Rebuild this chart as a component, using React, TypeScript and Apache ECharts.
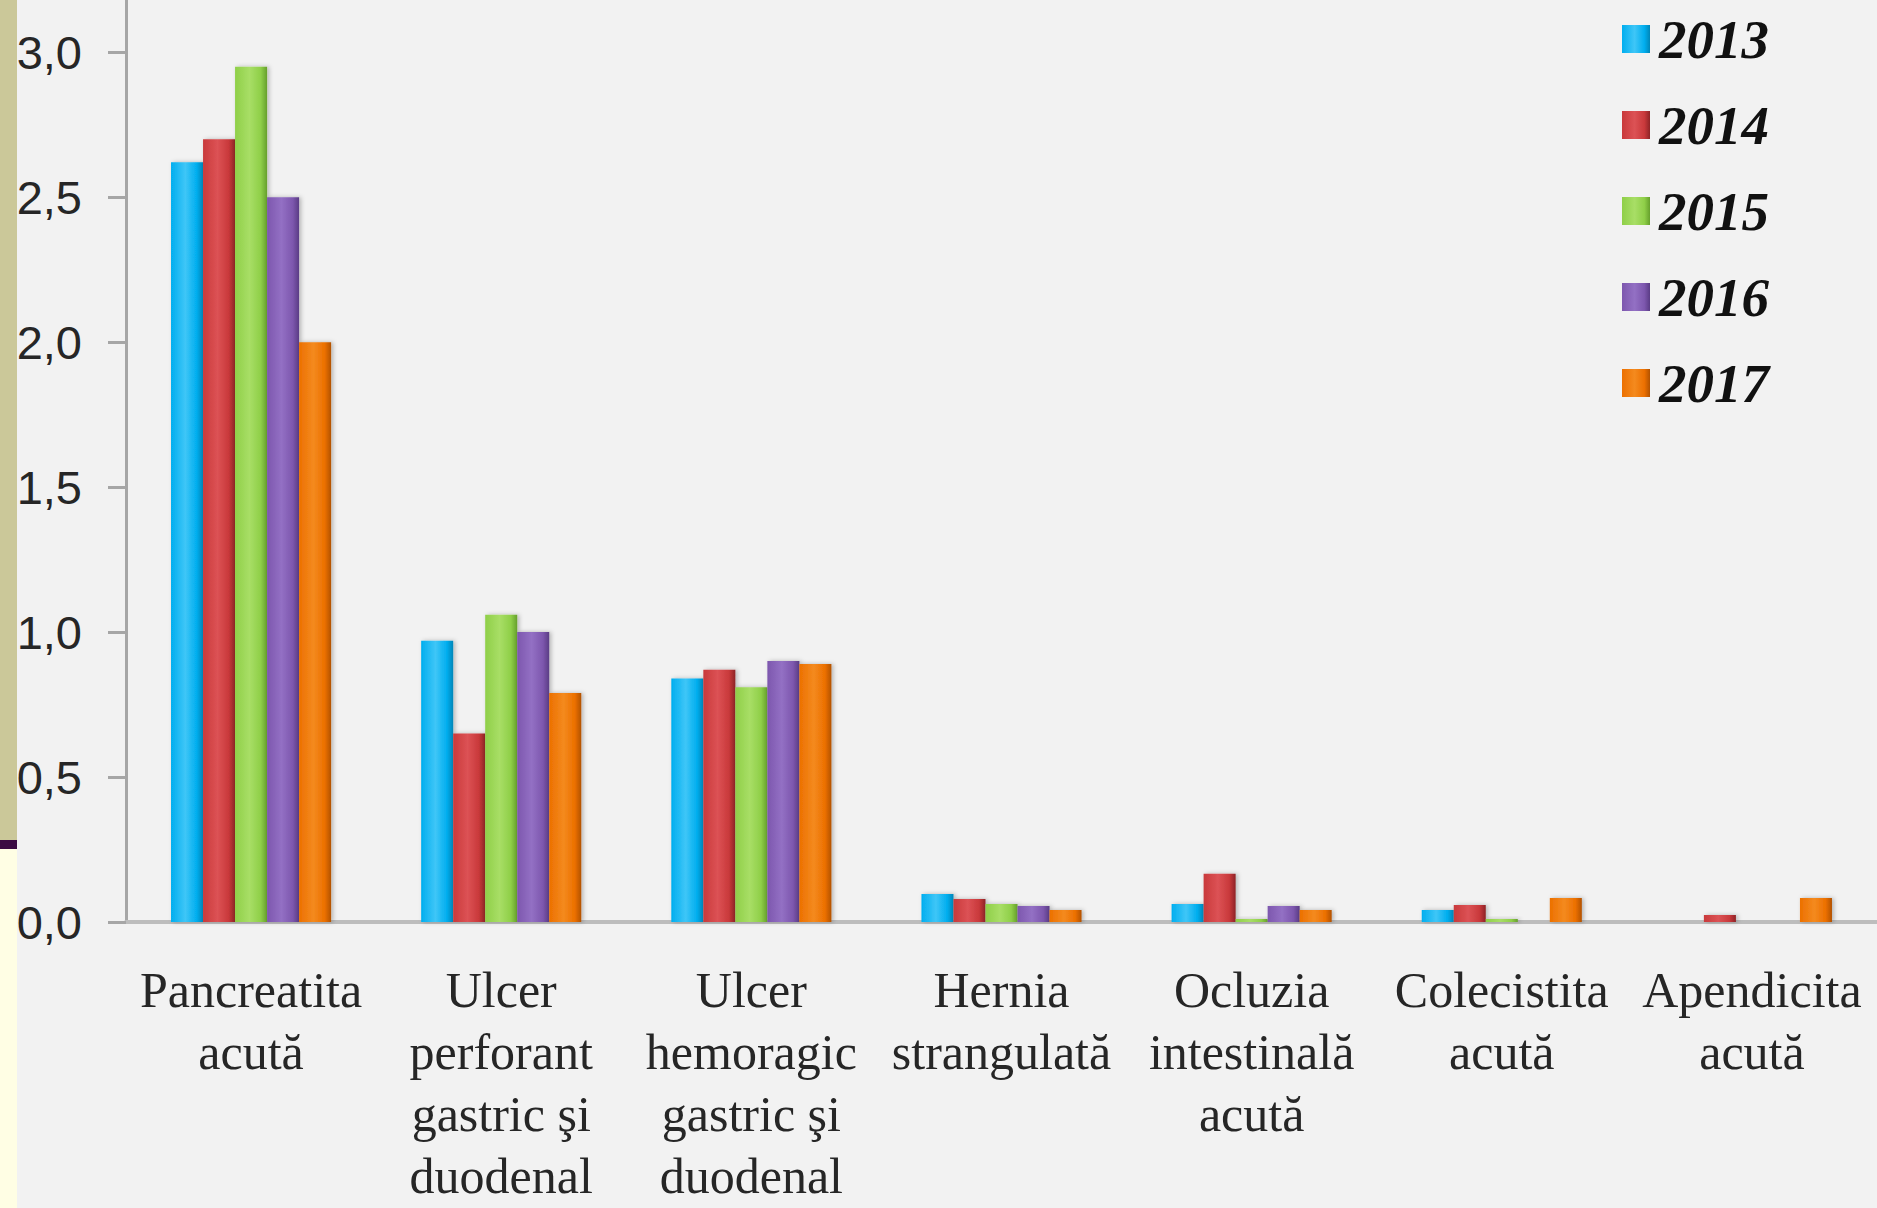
import React, { useEffect, useRef } from "react";
import * as echarts from "echarts";

const categories = [
  "Pancreatita\nacută",
  "Ulcer\nperforant\ngastric şi\nduodenal",
  "Ulcer\nhemoragic\ngastric şi\nduodenal",
  "Hernia\nstrangulată",
  "Ocluzia\nintestinală\nacută",
  "Colecistita\nacută",
  "Apendicita\nacută",
];

const years = ["2013", "2014", "2015", "2016", "2017"];

const values2013 = [2.62, 0.97, 0.84, 0.097, 0.062, 0.041, 0];
const values2014 = [2.70, 0.65, 0.87, 0.079, 0.166, 0.059, 0.024];
const values2015 = [2.95, 1.06, 0.81, 0.062, 0.01, 0.01, 0];
const values2016 = [2.50, 1.00, 0.90, 0.055, 0.055, 0, 0];
const values2017 = [2.00, 0.79, 0.89, 0.041, 0.041, 0.083, 0.083];

const yTicks = [0, 0.5, 1.0, 1.5, 2.0, 2.5, 3.0];

const seriesValues = [values2013, values2014, values2015, values2016, values2017];

const palette = [
  { base: "#00AEEF", light: "#3FC6F7", dark: "#0086B8" },
  { base: "#C9393B", light: "#DC5255", dark: "#8E2426" },
  { base: "#8FCF48", light: "#A8DE66", dark: "#66A02C" },
  { base: "#7D57AE", light: "#9370C4", dark: "#5A3C85" },
  { base: "#EC7000", light: "#F48A1E", dark: "#B25200" },
];

function grad(p: { base: string; light: string; dark: string }) {
  return new echarts.graphic.LinearGradient(0, 0, 1, 0, [
    { offset: 0, color: p.base },
    { offset: 0.45, color: p.light },
    { offset: 0.8, color: p.base },
    { offset: 1, color: p.dark },
  ]);
}

export default function App() {
  const ref = useRef<HTMLDivElement>(null);

  useEffect(() => {
    document.body.style.margin = "0";
    if (!ref.current) return;
    const chart = echarts.init(ref.current, undefined, { renderer: "svg" });

    const series = years.map((y, i) => ({
      name: y,
      type: "bar",
      data: seriesValues[i],
      barGap: "0%",
      barCategoryGap: "36%",
      itemStyle: {
        color: grad(palette[i]),
        shadowBlur: 4,
        shadowColor: "rgba(0,0,0,0.25)",
        shadowOffsetX: 2,
      },
    }));

    chart.setOption({
      animation: false,
      backgroundColor: "#F2F2F2",
      grid: {
        left: 126,
        right: 0,
        top: 0,
        bottom: 286,
        containLabel: false,
        outerBoundsMode: "none",
      },
      legend: {
        orient: "vertical",
        left: 1617,
        top: 4,
        itemWidth: 28,
        itemHeight: 28,
        itemGap: 26,
        icon: "rect",
        data: years,
        textStyle: {
          fontFamily: "Liberation Serif",
          fontStyle: "italic",
          fontWeight: "bold",
          fontSize: 55,
          lineHeight: 60,
          padding: [0, 0, 0, 4],
          color: "#111111",
        },
      },
      xAxis: {
        type: "category",
        data: categories,
        axisLine: { show: true, lineStyle: { color: "#BDBDBD", width: 4 } },
        axisTick: { show: false },
        axisLabel: {
          interval: 0,
          margin: 37,
          fontFamily: "Liberation Serif",
          fontSize: 50,
          lineHeight: 62,
          color: "#262626",
        },
      },
      yAxis: {
        type: "value",
        min: 0,
        max: 3.18,
        splitLine: { show: false },
        axisLine: { show: true, lineStyle: { color: "#A6A6A6", width: 3 } },
        axisTick: {
          show: true,
          length: 18,
          customValues: yTicks,
          lineStyle: { color: "#A6A6A6", width: 3 },
        },
        axisLabel: {
          customValues: yTicks,
          margin: 44,
          fontFamily: "Liberation Sans",
          fontSize: 47,
          color: "#262626",
          formatter: (v: number) => v.toFixed(1).replace(".", ","),
        },
      },
      graphic: [
        { type: "rect", left: 0, top: 0, shape: { width: 17, height: 840 }, style: { fill: "#CBC899" }, z: 100 },
        { type: "rect", left: 0, top: 840, shape: { width: 17, height: 9 }, style: { fill: "#3B0B42" }, z: 100 },
        { type: "rect", left: 0, top: 849, shape: { width: 17, height: 359 }, style: { fill: "#FFFEE4" }, z: 100 },
      ],
      series,
    });

    return () => chart.dispose();
  }, []);

  return <div ref={ref} style={{ width: 1877, height: 1208 }} />;
}
